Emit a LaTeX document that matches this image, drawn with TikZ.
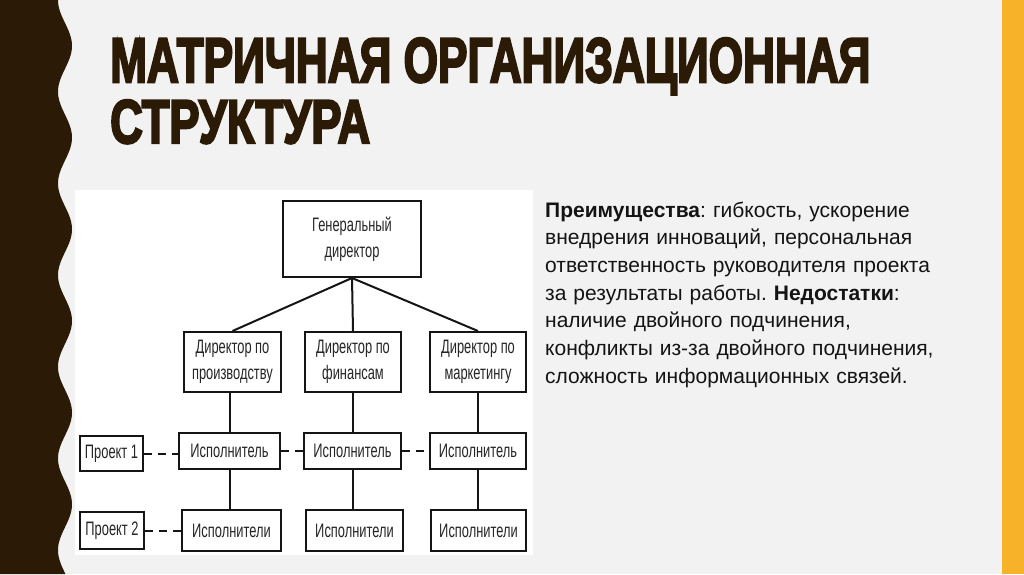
\documentclass[tikz,border=0pt]{standalone}
\usepackage{fontspec}
\usepackage{graphicx}
\setmainfont{Liberation Sans}
\newfontfamily\titlefont{Liberation Sans}[BoldFeatures={FakeBold=4}]
\newfontfamily\diafont{Liberation Sans}[FakeStretch=0.66]
\definecolor{bg}{HTML}{F2F2F2}
\definecolor{band}{HTML}{2B1B06}
\definecolor{stripe}{HTML}{F8B22A}
\definecolor{boxline}{HTML}{151515}
\definecolor{diatext}{HTML}{262626}
\definecolor{bodytext}{HTML}{141414}
\frenchspacing
\begin{document}
\begin{tikzpicture}[x=1pt,y=-1pt,
  box/.style={draw=boxline, line width=2pt, fill=white, inner sep=0pt, align=center,
    font=\diafont\fontsize{19.5}{26}\selectfont, text=diatext},
  link/.style={draw=boxline, line width=2pt},
  dashlink/.style={link, dash pattern=on 8pt off 6pt}]
\useasboundingbox (0,0) rectangle (1024,574);
% background
\fill[bg] (0,0) rectangle (1024,574);
\fill[stripe] (1002,0) rectangle (1024,574);
\fill[band] (0,0) -- plot[domain=0:574, samples=300, variable=\t] ({65-7*cos(3.926*\t)}, {\t}) -- (0,574) -- cycle;
% title
\node[anchor=base west, inner sep=0pt, text=band] (title1) at (110,82)
  {\resizebox{760pt}{44pt}{\titlefont\bfseries МАТРИЧНАЯ ОРГАНИЗАЦИОННАЯ}};
\node[anchor=base west, inner sep=0pt, text=band] (title2) at (110,143)
  {\resizebox{260pt}{43pt}{\titlefont\bfseries СТРУКТУРА}};
% body text
\node[anchor=base west, inner sep=0pt, text width=460pt, align=left, text=bodytext,
  font=\fontsize{21}{27.7}\selectfont] (adv) at (545,217)
  {\textbf{Преимущества}: гибкость, ускорение\\
   внедрения инноваций, персональная\\
   ответственность руководителя проекта\\
   за результаты работы. \textbf{Недостатки}:\\
   наличие двойного подчинения,\\
   конфликты из-за двойного подчинения,\\
   сложность информационных связей.};
% diagram panel
\fill[white] (75,190) rectangle (533,555);
\node[box, minimum width=138pt, minimum height=76pt] (gen) at (352,239) {Генеральный\\директор};
\node[box, minimum width=97pt, minimum height=60pt] (d1) at (232.5,362) {Директор по\\производству};
\node[box, minimum width=96pt, minimum height=60pt] (d2) at (353,362) {Директор по\\финансам};
\node[box, minimum width=96pt, minimum height=60pt] (d3) at (478,362) {Директор по\\маркетингу};
\node[box, minimum width=101pt, minimum height=36pt] (i1) at (229.5,451) {Исполнитель};
\node[box, minimum width=97pt, minimum height=36pt] (i2) at (352.5,451) {Исполнитель};
\node[box, minimum width=96pt, minimum height=36pt] (i3) at (478,451) {Исполнитель};
\node[box, minimum width=63pt, minimum height=35pt] (p1) at (111.5,453.5) {Проект 1};
\node[box, minimum width=99pt, minimum height=41pt] (e1) at (231.5,530.5) {Исполнители};
\node[box, minimum width=97pt, minimum height=41pt] (e2) at (354.5,530.5) {Исполнители};
\node[box, minimum width=95pt, minimum height=41pt] (e3) at (478.5,530.5) {Исполнители};
\node[box, minimum width=64pt, minimum height=37pt] (p2) at (112,530.5) {Проект 2};
% connectors
\draw[link] (gen.south) -- (d1.north);
\draw[link] (gen.south) -- (d2.north);
\draw[link] (gen.south) -- (d3.north);
\draw[link] (d1.south -| i1.north) -- (i1.north);
\draw[link] (d2.south -| i2.north) -- (i2.north);
\draw[link] (d3.south) -- (i3.north);
\draw[link] (i1.south) -- (e1.north -| i1.south);
\draw[link] (i2.south) -- (e2.north -| i2.south);
\draw[link] (i3.south) -- (e3.north -| i3.south);
\draw[dashlink] (p1.east) -- (i1.west |- p1.east);
\draw[dashlink] (i1.east) -- (i2.west);
\draw[dashlink] (i2.east) -- (i3.west);
\draw[dashlink] (p2.east) -- (e1.west |- p2.east);
\end{tikzpicture}
\end{document}
